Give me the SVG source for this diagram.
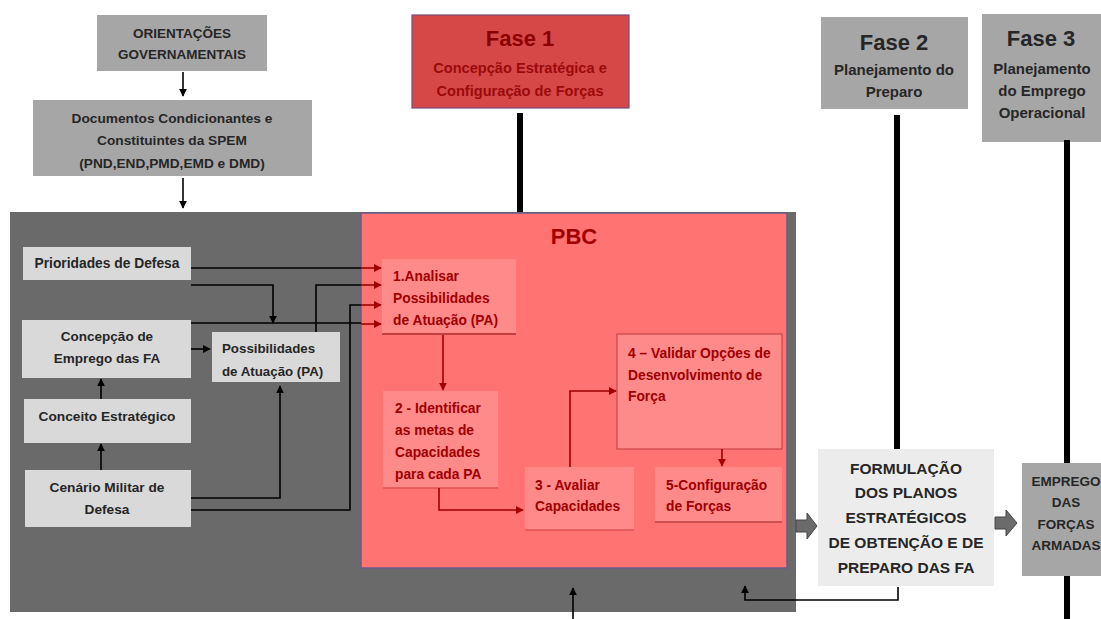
<svg xmlns="http://www.w3.org/2000/svg" width="1101" height="619" viewBox="0 0 1101 619">
<defs>
<style>
text{font-family:"Liberation Sans",Arial,sans-serif;font-weight:bold}
.dk{fill:#262626}
.rd{fill:#a00000}
.c{text-anchor:middle}
.gbox{fill:#a6a6a6}
.lbox{fill:#d9d9d9}
.pbox{fill:#ff8a8a}
.bl{fill:none;stroke:#000;stroke-width:1.6}
.rl{fill:none;stroke:#a00000;stroke-width:1.6}
.thick{stroke:#000;stroke-width:6}
.in{font-size:13.8px}
</style>
<marker id="ab" viewBox="0 0 10 10" refX="9" refY="5" markerWidth="5" markerHeight="5" orient="auto" markerUnits="strokeWidth"><path d="M0,0 L10,5 L0,10 z" fill="#000"/></marker>
<marker id="ar" viewBox="0 0 10 10" refX="9" refY="5" markerWidth="5" markerHeight="5" orient="auto" markerUnits="strokeWidth"><path d="M0,0 L10,5 L0,10 z" fill="#a00000"/></marker>
</defs>
<rect width="1101" height="619" fill="#fff"/>

<g id="container">
<rect x="10" y="212" width="786" height="400" fill="#6a6a6a"/>
</g>
<g id="pbc">
<rect x="361" y="213" width="426" height="355" fill="#ff7373" stroke="#6a5a8a" stroke-width="1.5"/>
<text x="574" y="244" class="rd c" font-size="22">PBC</text>
</g>

<g id="orientacoes">
<rect class="gbox" x="97" y="15" width="170" height="56"/>
<text x="182" y="38" class="dk c" font-size="13.5">ORIENTAÇÕES</text>
<text x="182" y="59" class="dk c" font-size="13.5">GOVERNAMENTAIS</text>
</g>
<g id="documentos">
<rect class="gbox" x="33" y="100" width="279" height="76"/>
<text x="172" y="123" class="dk c" font-size="13.7">Documentos Condicionantes e</text>
<text x="172" y="145" class="dk c" font-size="13.7">Constituintes da SPEM</text>
<text x="172" y="168" class="dk c" font-size="13.7">(PND,END,PMD,EMD e DMD)</text>
</g>
<g id="fase1">
<rect x="412" y="15" width="217" height="93" fill="#d64848" stroke="#7a4a7a" stroke-width="1.2"/>
<text x="520" y="46" class="c" fill="#8b0000" font-size="22">Fase 1</text>
<text x="520" y="73" class="c" fill="#9b0a0a" font-size="14.6">Concepção Estratégica e</text>
<text x="520" y="96" class="c" fill="#9b0a0a" font-size="14.6">Configuração de Forças</text>
</g>
<g id="fase2">
<rect class="gbox" x="821" y="17" width="147" height="92"/>
<text x="894" y="50" class="dk c" font-size="22">Fase 2</text>
<text x="894" y="75" class="dk c" font-size="15">Planejamento do</text>
<text x="894" y="97" class="dk c" font-size="15">Preparo</text>
</g>
<g id="fase3">
<rect class="gbox" x="982" y="14" width="119" height="128"/>
<text x="1041" y="46" class="dk c" font-size="22">Fase 3</text>
<text x="1042" y="74" class="dk c" font-size="15">Planejamento</text>
<text x="1042" y="96" class="dk c" font-size="15">do Emprego</text>
<text x="1042" y="118" class="dk c" font-size="15">Operacional</text>
</g>
<g id="formulacao">
<rect x="818" y="449" width="176" height="137" fill="#ececec"/>
<text x="906" y="474" class="dk c" font-size="15.5">FORMULAÇÃO</text>
<text x="906" y="498" class="dk c" font-size="15.5">DOS PLANOS</text>
<text x="906" y="523" class="dk c" font-size="15.5">ESTRATÉGICOS</text>
<text x="906" y="548" class="dk c" font-size="15.5">DE OBTENÇÃO E DE</text>
<text x="906" y="573" class="dk c" font-size="15.5">PREPARO DAS FA</text>
</g>
<g id="emprego">
<rect class="gbox" x="1022" y="463" width="79" height="113"/>
<text x="1066" y="486" class="dk c" font-size="13.5">EMPREGO</text>
<text x="1066" y="507" class="dk c" font-size="13.5">DAS</text>
<text x="1066" y="529" class="dk c" font-size="13.5">FORÇAS</text>
<text x="1066" y="550" class="dk c" font-size="13.5">ARMADAS</text>
</g>

<g id="prioridades">
<rect class="lbox" x="23" y="247" width="168" height="33"/>
<text x="107" y="268" class="dk c" font-size="13.8">Prioridades de Defesa</text>
</g>
<g id="concepcao">
<rect class="lbox" x="22" y="320" width="169" height="58"/>
<text x="107" y="341" class="dk c" font-size="13.5">Concepção de</text>
<text x="107" y="363" class="dk c" font-size="13.5">Emprego das FA</text>
</g>
<g id="possibilidades">
<rect class="lbox" x="212" y="332" width="128" height="50"/>
<text x="222" y="353" class="dk" font-size="13.3">Possibilidades</text>
<text x="222" y="376" class="dk" font-size="13.3">de Atuação (PA)</text>
</g>
<g id="conceito">
<rect class="lbox" x="24" y="399" width="167" height="44"/>
<text x="107" y="421" class="dk c" font-size="13.7">Conceito Estratégico</text>
</g>
<g id="cenario">
<rect class="lbox" x="25" y="470" width="166" height="57"/>
<text x="107" y="492" class="dk c" font-size="13.7">Cenário Militar de</text>
<text x="107" y="514" class="dk c" font-size="13.7">Defesa</text>
</g>

<g id="step1">
<rect class="pbox" x="382" y="259" width="134" height="75"/>
<line x1="382" y1="334" x2="516" y2="334" stroke="#c04040" stroke-width="2"/>
<text x="393" y="281" class="rd in">1.Analisar</text>
<text x="393" y="303" class="rd in">Possibilidades</text>
<text x="393" y="325" class="rd in">de Atuação (PA)</text>
</g>
<g id="step2">
<rect class="pbox" x="383" y="391" width="115" height="97"/>
<line x1="383" y1="488" x2="498" y2="488" stroke="#e05050" stroke-width="1.5"/>
<text x="395" y="413" class="rd in">2 - Identificar</text>
<text x="395" y="435" class="rd in">as metas de</text>
<text x="395" y="457" class="rd in">Capacidades</text>
<text x="395" y="479" class="rd in">para cada PA</text>
</g>
<g id="step3">
<rect class="pbox" x="525" y="467" width="109" height="63"/>
<line x1="525" y1="530" x2="634" y2="530" stroke="#e05050" stroke-width="1.5"/>
<text x="535" y="490" class="rd in">3 - Avaliar</text>
<text x="535" y="511" class="rd in">Capacidades</text>
</g>
<g id="step4">
<rect class="pbox" x="617" y="334" width="165" height="115" stroke="#c03a3a" stroke-width="1"/>
<text x="628" y="358" class="rd in">4 – Validar Opções de</text>
<text x="628" y="380" class="rd in">Desenvolvimento de</text>
<text x="628" y="401" class="rd in">Força</text>
</g>
<g id="step5">
<rect class="pbox" x="655" y="467" width="127" height="55"/>
<line x1="655" y1="522" x2="782" y2="522" stroke="#c04040" stroke-width="1.5"/>
<text x="666" y="490" class="rd in">5-Configuração</text>
<text x="666" y="511" class="rd in">de Forças</text>
</g>

<g id="connectors">
<line class="thick" x1="520" y1="113" x2="520" y2="212"/>
<line class="thick" x1="897" y1="115" x2="897" y2="449"/>
<line class="thick" x1="1067" y1="140" x2="1067" y2="463"/>
<line class="thick" x1="1067" y1="576" x2="1067" y2="619" stroke-width="3"/>
<path class="bl" d="M183,72 V96" marker-end="url(#ab)"/>
<path class="bl" d="M183,178 V208" marker-end="url(#ab)"/>
<path class="bl" d="M191,268 H361"/>
<path class="rl" d="M361,268 H381" marker-end="url(#ar)"/>
<path class="bl" d="M191,285 H273 V323" marker-end="url(#ab)"/>
<path class="bl" d="M191,323 H361"/>
<path class="rl" d="M361,324 H381" marker-end="url(#ar)"/>
<path class="bl" d="M191,349 H210" marker-end="url(#ab)"/>
<path class="bl" d="M316,332 V285 H361"/>
<path class="rl" d="M361,285 H381" marker-end="url(#ar)"/>
<path class="bl" d="M191,498 H280 V386" marker-end="url(#ab)"/>
<path class="bl" d="M191,510 H350 V305 H361"/>
<path class="rl" d="M361,305 H381" marker-end="url(#ar)"/>
<path class="bl" d="M101,399 V379" marker-end="url(#ab)"/>
<path class="bl" d="M101,470 V444" marker-end="url(#ab)"/>
<path class="rl" d="M443,335 V390" marker-end="url(#ar)"/>
<path class="rl" d="M439,488 V510 H523" marker-end="url(#ar)"/>
<path class="rl" d="M570,467 V391 H616" marker-end="url(#ar)"/>
<path class="rl" d="M722,449 V466" marker-end="url(#ar)"/>
<path class="bl" d="M898,587 V600 H745 V586" marker-end="url(#ab)"/>
<path class="bl" d="M573,619 V588" marker-end="url(#ab)"/>
<polygon points="796,520 807,520 807,513 817,526 807,539 807,532 796,532" fill="#6b6b6b" stroke="#444" stroke-width="1"/>
<polygon points="995,517 1006,517 1006,510 1017,523 1006,536 1006,529 995,529" fill="#6b6b6b" stroke="#444" stroke-width="1"/>
</g>
</svg>
